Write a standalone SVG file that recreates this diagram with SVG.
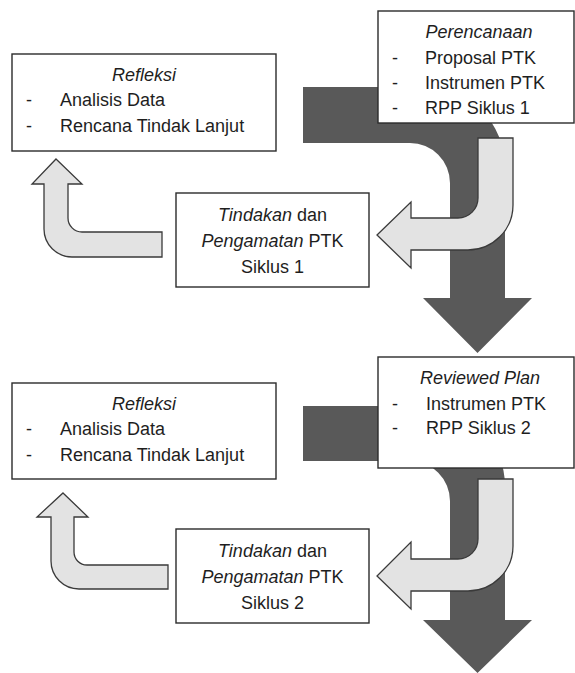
<svg xmlns="http://www.w3.org/2000/svg" width="575" height="673" viewBox="0 0 575 673">
<style>
.dark{fill:#595959;stroke:none}
.light{fill:#e3e3e3;stroke:#3a3a3a;stroke-width:1.3;stroke-linejoin:miter}
.box{fill:#ffffff;stroke:#2b2b2b;stroke-width:1.4}
text{font-family:"Liberation Sans",Arial,sans-serif;font-size:18px;fill:#1e1e1e}
.c{text-anchor:middle}
.i{font-style:italic}
</style>
<rect width="575" height="673" fill="#ffffff"/>
<g id="connectors">
<path class="dark" d="M303,87 H425 A80,80 0 0 1 505,167 V298 H532 L477.5,353 L423,298 H450 V183 A40,40 0 0 0 410,143 H303 Z"/>
<path class="dark" d="M303,406 H425 A80,80 0 0 1 505,486 V620 H532 L477.5,673 L423,620 H450 V501 A40,40 0 0 0 410,461 H303 Z"/>
<path class="light" d="M478,138 H513 V205 A45,45 0 0 1 468,250 H411 V268 L377,235 L411,202 V218 H458 A20,20 0 0 0 478,198 Z"/>
<path class="light" d="M478,479 H513 V546 A45,45 0 0 1 468,591 H411 V609 L377,576 L411,542 V559 H458 A20,20 0 0 0 478,539 Z"/>
<path class="light" d="M56,159 L82,184 H68 V218 A14,14 0 0 0 82,232 H162 V257 H72 A28,28 0 0 1 44,229 V184 H32 Z"/>
<path class="light" d="M63,493 L88,517 H74 V552 A13,13 0 0 0 87,565 H168 V589 H79 A28,28 0 0 1 51,561 V517 H37 Z"/>
</g>
<g id="perencanaan">
<rect class="box" x="378" y="11" width="196" height="112"/>
<text class="c i" x="479" y="38">Perencanaan</text>
<text x="392" y="64">-</text><text x="425" y="64">Proposal PTK</text>
<text x="392" y="89">-</text><text x="425" y="89">Instrumen PTK</text>
<text x="392" y="114">-</text><text x="425" y="114">RPP Siklus 1</text>
</g>
<g id="refleksi1">
<rect class="box" x="12" y="54" width="264" height="97"/>
<text class="c i" x="144" y="81">Refleksi</text>
<text x="26" y="106">-</text><text x="60" y="106">Analisis Data</text>
<text x="26" y="132">-</text><text x="60" y="132">Rencana Tindak Lanjut</text>
</g>
<g id="tindakan1">
<rect class="box" x="176" y="193" width="193" height="94"/>
<text class="c" x="272.5" y="221"><tspan class="i">Tindakan</tspan> dan</text>
<text class="c" x="272.5" y="247"><tspan class="i">Pengamatan</tspan> PTK</text>
<text class="c" x="272.5" y="273">Siklus 1</text>
</g>
<g id="reviewed">
<rect class="box" x="378" y="357" width="196" height="111"/>
<text class="c i" x="480" y="384">Reviewed Plan</text>
<text x="392" y="410">-</text><text x="426" y="410">Instrumen PTK</text>
<text x="392" y="434">-</text><text x="426" y="434">RPP Siklus 2</text>
</g>
<g id="refleksi2">
<rect class="box" x="12" y="383" width="264" height="96"/>
<text class="c i" x="144" y="410">Refleksi</text>
<text x="26" y="435">-</text><text x="60" y="435">Analisis Data</text>
<text x="26" y="461">-</text><text x="60" y="461">Rencana Tindak Lanjut</text>
</g>
<g id="tindakan2">
<rect class="box" x="176" y="529" width="193" height="94"/>
<text class="c" x="272.5" y="557"><tspan class="i">Tindakan</tspan> dan</text>
<text class="c" x="272.5" y="583"><tspan class="i">Pengamatan</tspan> PTK</text>
<text class="c" x="272.5" y="609">Siklus 2</text>
</g>
</svg>
